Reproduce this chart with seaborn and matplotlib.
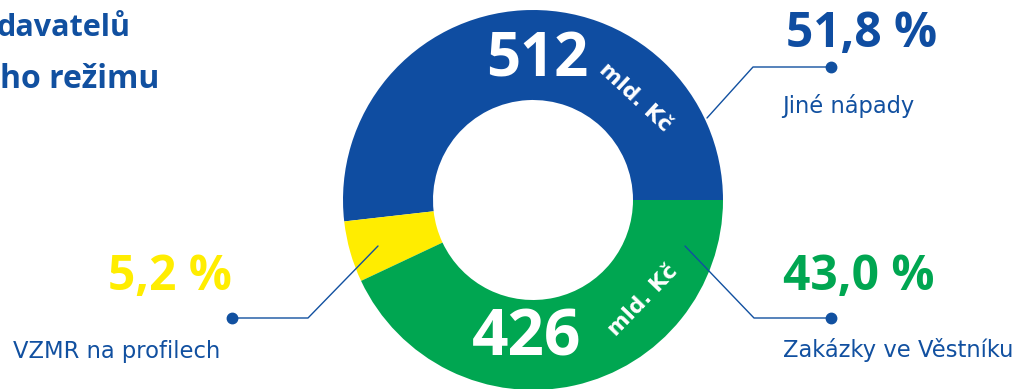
import matplotlib
matplotlib.use("Agg")
import matplotlib.pyplot as plt
import seaborn as sns

# Shares of procurement volume by channel
categories = ["Jiné nápady", "VZMR na profilech", "Zakázky ve Věstníku"]
shares = [51.8, 5.2, 43.0]
amounts = [512, None, 426]          # mld. Kč shown inside the ring
title_lines = ["davatelů", "ho režimu"]

sns.set_theme(style="white")
plt.rcParams["font.family"] = ["Open Sans", "DejaVu Sans"]

BLUE = "#0F4DA1"
GREEN = "#00A651"
YELLOW = "#FFED00"
TEXT_BLUE = "#1150A0"
colors = [BLUE, YELLOW, GREEN]

W, H = 1030, 389
fig = plt.figure(figsize=(W / 100, H / 100), dpi=100)
ax = fig.add_axes([0, 0, 1, 1])


def Y(y_top):
    """Convert a top-down pixel row into the axis coordinate."""
    return H - y_top


cx, cy = 533, Y(200)
R_OUT, R_IN = 190, 100

ax.pie(shares, colors=colors, startangle=0, counterclock=True,
       center=(cx, cy), radius=R_OUT,
       wedgeprops=dict(width=R_OUT - R_IN, linewidth=0, antialiased=True))
ax.set_xlim(0, W)
ax.set_ylim(0, H)
ax.set_aspect("equal")
ax.axis("off")

# Amounts inside the ring
ax.text(486, Y(76), f"{amounts[0]}", color="white", fontsize=43,
        fontweight="bold", ha="left", va="baseline")
ax.text(635, Y(97), "mld. Kč", color="white", fontsize=15.5, fontweight="bold",
        family=["DejaVu Sans"],
        rotation=-43, rotation_mode="anchor", ha="center", va="center")
ax.text(472, Y(355), f"{amounts[2]}", color="white", fontsize=46,
        fontweight="bold", ha="left", va="baseline")
ax.text(643, Y(300), "mld. Kč", color="white", fontsize=15.5, fontweight="bold",
        family=["DejaVu Sans"],
        rotation=46, rotation_mode="anchor", ha="center", va="center")


def pct(v):
    return f"{v:.1f}".replace(".", ",") + " %"


# Callouts: (percent pos, name pos, dot, elbow, anchor in ring)
callouts = [
    dict(i=0, pct_xy=(786, 47), name_xy=(782, 113),
         line=[(831, 67), (753, 67), (707, 118)]),
    dict(i=1, pct_xy=(108, 290), name_xy=(13, 358),
         line=[(232, 318), (308, 318), (378, 246)]),
    dict(i=2, pct_xy=(783, 290), name_xy=(783, 357),
         line=[(831, 318), (754, 318), (685, 246)]),
]
for c in callouts:
    i = c["i"]
    xs = [p[0] for p in c["line"]]
    ys = [Y(p[1]) for p in c["line"]]
    ax.plot(xs, ys, color=TEXT_BLUE, lw=1.0, solid_capstyle="round", zorder=5)
    ax.plot(xs[0], ys[0], "o", color=TEXT_BLUE, ms=7.5, zorder=6)
    ax.text(c["pct_xy"][0], Y(c["pct_xy"][1]), pct(shares[i]), color=colors[i],
            fontsize=34.5, fontweight="bold", ha="left", va="baseline")
    ax.text(c["name_xy"][0], Y(c["name_xy"][1]), categories[i], color=TEXT_BLUE,
            fontsize=16.3, family=["DejaVu Sans"], ha="left", va="baseline")

# Heading
ax.text(-3, Y(36), title_lines[0], color=TEXT_BLUE, fontsize=22,
        fontweight="bold", ha="left", va="baseline")
ax.text(0, Y(88), title_lines[1], color=TEXT_BLUE, fontsize=23,
        fontweight="bold", ha="left", va="baseline")

fig.savefig("out.png", dpi=100, facecolor="white")
